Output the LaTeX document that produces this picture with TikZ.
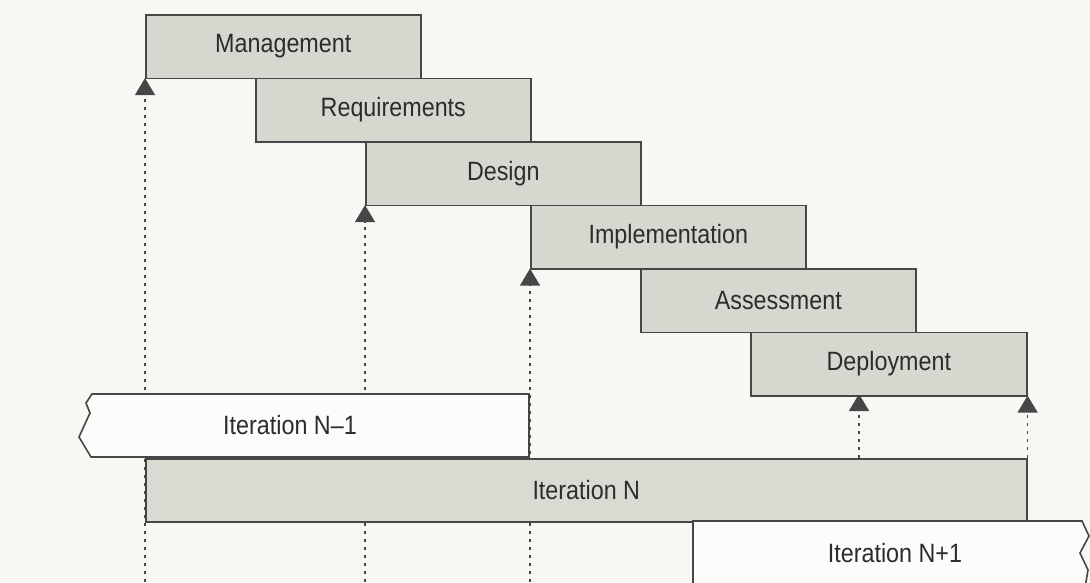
\documentclass[tikz,border=0pt]{standalone}
\usepackage{fontspec}
\setmainfont{Liberation Sans}
\usetikzlibrary{arrows.meta}
\definecolor{paper}{HTML}{F8F7F4}
\definecolor{boxfill}{HTML}{D7D6CF}
\definecolor{iterfill}{HTML}{DBDAD2}
\definecolor{whitefill}{HTML}{FCFCFB}
\definecolor{edge}{HTML}{464646}
\definecolor{ink}{HTML}{2C2C2C}
\newcommand{\sqz}[1]{\scalebox{0.88}[1]{#1}}
\pgfdeclarelayer{paperlayer}
\pgfdeclarelayer{bg}
\pgfsetlayers{paperlayer,bg,main}
\begin{document}
\begin{tikzpicture}[x=1pt,y=-1pt,
  txt/.style={text=ink, font=\fontsize{26.5}{30}\selectfont, inner sep=0pt},
  phasebox/.style={txt, draw=edge, line width=1.6pt, fill=boxfill,
    minimum width=275pt, minimum height=63.5pt, anchor=north west},
  iterbox/.style={draw=edge, line width=1.6pt, fill=whitefill},
  dotline/.style={draw=edge, line width=1.3pt, dash pattern=on 3pt off 5pt},
  milestone/.style={dotline, -{Triangle[width=20pt,length=17pt,fill=edge]}, shorten >=-1pt}
]
\useasboundingbox (0,0) rectangle (1090,582);
\clip (0,0) rectangle (1090,582);
\begin{pgfonlayer}{paperlayer}
  \fill[paper] (0,0) rectangle (1090,582);
\end{pgfonlayer}

% phases
\node[phasebox] (mgmt)   at (145,14)    {\sqz{Management}};
\node[phasebox] (req)    at (255,77.5)  {\sqz{Requirements}};
\node[phasebox] (des)    at (365,141)   {\sqz{Design}};
\node[phasebox] (impl)   at (530,204.5) {\sqz{Implementation}};
\node[phasebox] (assess) at (640,268)   {\sqz{Assessment}};
\node[phasebox, minimum width=276pt] (deploy) at (750,331.5) {\sqz{Deployment}};

% iterations
\draw[iterbox] (92,394) -- (529,394) -- (529,457) -- (91,457) -- (79,437)
  -- (90,413) -- (86,403) -- cycle;
\node[txt] (itprev) at (290,425.5) {\sqz{Iteration N\textendash1}};

\node[txt, draw=edge, line width=1.6pt, fill=iterfill, minimum width=881pt,
  minimum height=63pt, anchor=north west] (itN) at (145,458) {\sqz{Iteration N}};

\draw[iterbox] (693,600) -- (693,521) -- (1082,521) -- (1089,536) -- (1080,553)
  -- (1088,570) -- (1083,600) -- cycle;
\node[txt] (itnext) at (895,553) {\sqz{Iteration N+1}};

% milestone lines
\coordinate (b1) at (145,590);
\coordinate (b2) at (365,590);
\coordinate (b3) at (530,590);
\coordinate (d1top) at (859,395);
\coordinate (d1bot) at (859,458);
\begin{pgfonlayer}{bg}
  \draw[milestone] (b1) -- (mgmt.south west);
  \draw[milestone] (b2) -- (des.south west);
  \draw[milestone] (b3) -- (impl.south west);
  \draw[milestone] (d1bot) -- (d1top);
  \draw[milestone] (itN.north east) -- (deploy.south east);
\end{pgfonlayer}
\end{tikzpicture}
\end{document}
